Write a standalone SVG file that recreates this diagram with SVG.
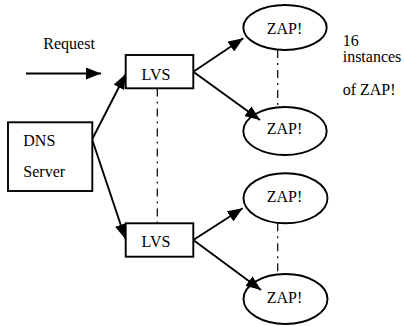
<svg xmlns="http://www.w3.org/2000/svg" width="404" height="326" viewBox="0 0 404 326">
<style>
text{font-family:"Liberation Serif","Times New Roman",serif;font-size:16px;fill:#000}
.box{fill:#fff;stroke:#000;stroke-width:1.9}
.ell{fill:none;stroke:#000;stroke-width:1.9}
.arr{stroke:#000;stroke-width:1.9;fill:none;marker-end:url(#ah)}
.dd{stroke:#000;stroke-width:1.2;fill:none;stroke-dasharray:8 5 2 5}
.c{text-anchor:middle}
</style>
<defs>
<marker id="ah" markerUnits="userSpaceOnUse" markerWidth="16" markerHeight="12" refX="15" refY="6" orient="auto">
<path d="M0,0 L15,6 L0,12 z" fill="#000"/>
</marker>
</defs>
<g id="connectors">
<line class="arr" x1="26" y1="73.5" x2="101" y2="73.5"/>
<line class="arr" x1="92.3" y1="139" x2="125.7" y2="74"/>
<line class="arr" x1="92.3" y1="140" x2="125.5" y2="239"/>
<line class="arr" x1="193.3" y1="71.7" x2="243.3" y2="38.3"/>
<line class="arr" x1="193.3" y1="71.7" x2="260" y2="120"/>
<line class="arr" x1="193.3" y1="240" x2="242.7" y2="208.3"/>
<line class="arr" x1="193.3" y1="240" x2="261" y2="290"/>
<line class="dd" x1="157.3" y1="88.5" x2="157.3" y2="223"/>
<line class="dd" x1="277.7" y1="50" x2="277.7" y2="107"/>
<line class="dd" x1="277.7" y1="223.3" x2="277.7" y2="274.3"/>
</g>
<g id="request"><text x="43.3" y="49">Request</text></g>
<g id="dns"><rect class="box" x="8" y="122.3" width="84.3" height="68.7"/><text x="23.3" y="146">DNS</text><text x="23.3" y="177">Server</text></g>
<g id="lvs1"><rect class="box" x="125.7" y="55" width="67.6" height="33.3"/><text class="c" x="156" y="79.5">LVS</text></g>
<g id="lvs2"><rect class="box" x="125.7" y="223.3" width="67.6" height="33.4"/><text class="c" x="156" y="247.3">LVS</text></g>
<g id="zap1"><ellipse class="ell" cx="285" cy="27.5" rx="41.7" ry="22.5"/><text class="c" x="284.5" y="34.3">ZAP!</text></g>
<g id="zap2"><ellipse class="ell" cx="285" cy="131" rx="41.7" ry="24"/><text class="c" x="284.5" y="133.5">ZAP!</text></g>
<g id="zap3"><ellipse class="ell" cx="285.5" cy="198.3" rx="42" ry="25"/><text class="c" x="284.5" y="201.7">ZAP!</text></g>
<g id="zap4"><ellipse class="ell" cx="285.5" cy="299" rx="42" ry="25"/><text class="c" x="284.5" y="302.7">ZAP!</text></g>
<g id="note"><text x="342.7" y="45.5">16</text><text x="342.7" y="61.5">instances</text><text x="342.7" y="95">of ZAP!</text></g>
</svg>
